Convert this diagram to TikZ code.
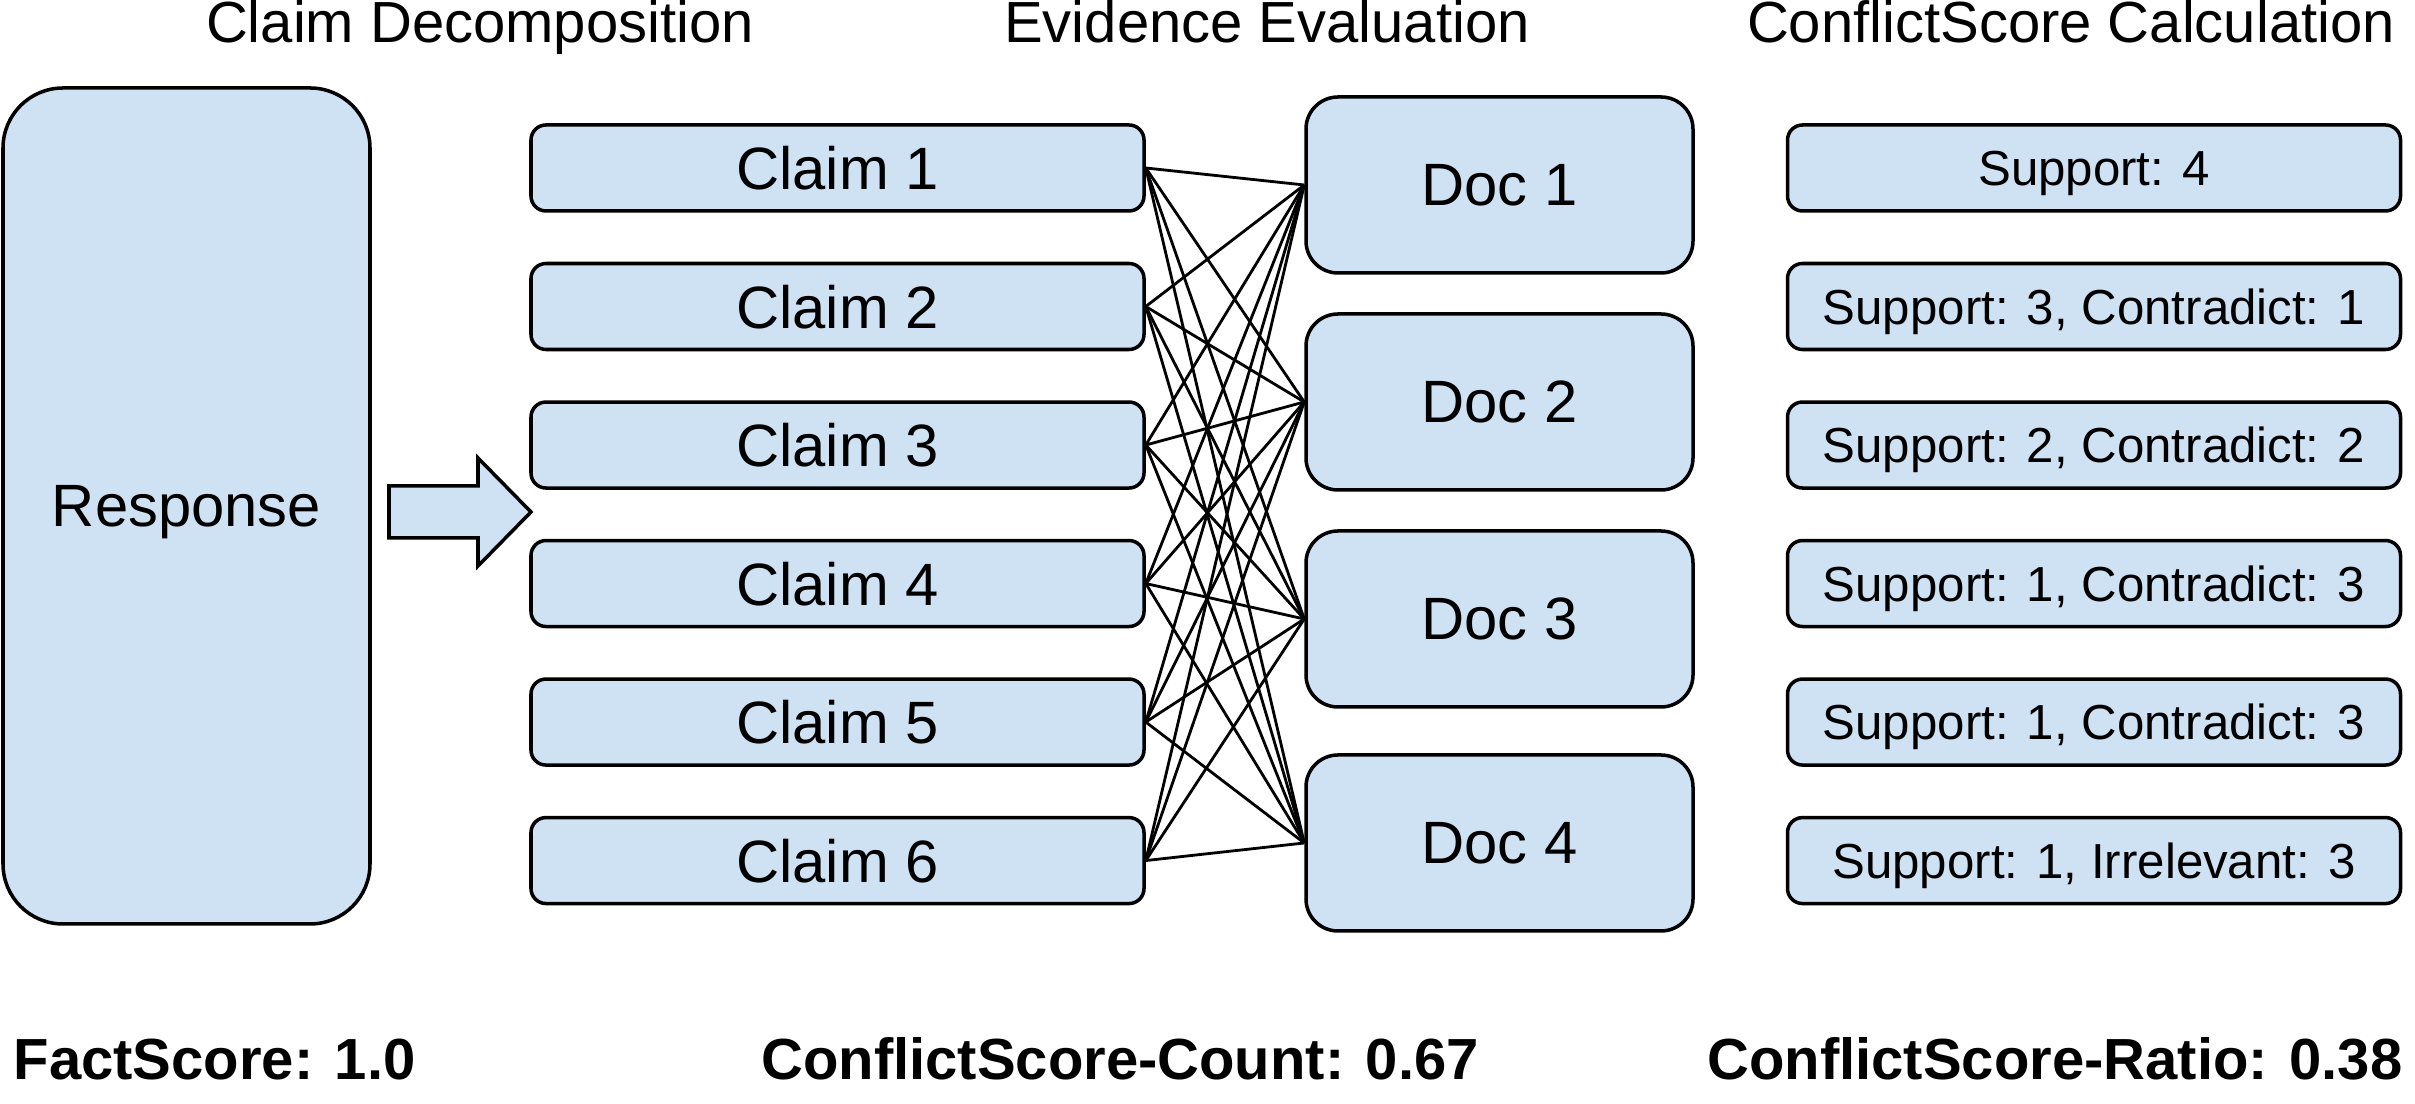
\documentclass[tikz,border=0pt]{standalone}
\usepackage{fontspec}
\setmainfont{Liberation Sans}
\usepackage{xcolor}
\usepackage{tikz}
\usetikzlibrary{positioning}
\definecolor{boxblue}{HTML}{CFE2F3}

\begin{document}
\begin{tikzpicture}
\tikzstyle{block} = [rectangle, draw, line width=1pt, fill=boxblue, text centered, text depth=0pt, inner sep=0pt]
\tikzstyle{claimbox} = [block, minimum width=6.13cm, minimum height=0.86cm, rounded corners=0.15cm, font=\fontsize{17}{20}\selectfont]
\tikzstyle{docbox} = [block, minimum width=3.87cm, minimum height=1.76cm, rounded corners=0.32cm, font=\fontsize{17}{20}\selectfont]
\tikzstyle{scorebox} = [block, minimum width=6.13cm, minimum height=0.86cm, rounded corners=0.15cm, font=\fontsize{14}{17}\selectfont]
\tikzstyle{stage} = [anchor=base, inner sep=0pt, font=\fontsize{16.5}{20}\selectfont]
\tikzstyle{result} = [anchor=base, inner sep=0pt, font=\fontsize{16.5}{20}\selectfont\bfseries]
\tikzstyle{link} = [line width=0.8pt]

\useasboundingbox (0,0) rectangle (24.15,-11.04);

\node (stage1) [stage] at (4.80,-0.43) {Claim Decomposition};
\node (stage2) [stage] at (12.67,-0.43) {Evidence Evaluation};
\node (stage3) [stage] at (20.71,-0.43) {ConflictScore Calculation};

\node (response) [block, minimum width=3.67cm, minimum height=8.36cm, rounded corners=0.6cm, font=\fontsize{17}{20}\selectfont] at (1.865,-5.06) {Response};
\draw [line width=1pt, fill=boxblue] (3.89,-4.86) -- (4.78,-4.86) -- (4.78,-4.58) -- (5.31,-5.12) -- (4.78,-5.66) -- (4.78,-5.38) -- (3.89,-5.38) -- cycle;

\node (claim1) [claimbox] at (8.375,-1.68) {Claim 1};
\foreach \i [count=\j from 1] in {2,...,6}
  \node (claim\i) [claimbox, below=0.49cm of claim\j] {Claim \i};

\foreach \i/\y in {1/1.85, 2/4.02, 3/6.19, 4/8.43}
  \node (doc\i) [docbox] at (14.995,-\y) {Doc \i};

\foreach \i/\t in {1/{Support: 4}, 2/{Support: 3, Contradict: 1}, 3/{Support: 2, Contradict: 2}, 4/{Support: 1, Contradict: 3}, 5/{Support: 1, Contradict: 3}, 6/{Support: 1, Irrelevant: 3}}
  \node (score\i) [scorebox, right=6.40cm of claim\i] {\t};

\foreach \c in {1,...,6}
  \foreach \d in {1,...,4}
    \draw [link] (claim\c.east) -- (doc\d.west);

\node (factscore) [result, anchor=base west] at (0.13,-10.80) {FactScore: 1.0};
\node (countscore) [result] at (11.20,-10.80) {ConflictScore-Count: 0.67};
\node (ratioscore) [result, anchor=base east] at (24.03,-10.80) {ConflictScore-Ratio: 0.38};

\end{tikzpicture}
\end{document}
